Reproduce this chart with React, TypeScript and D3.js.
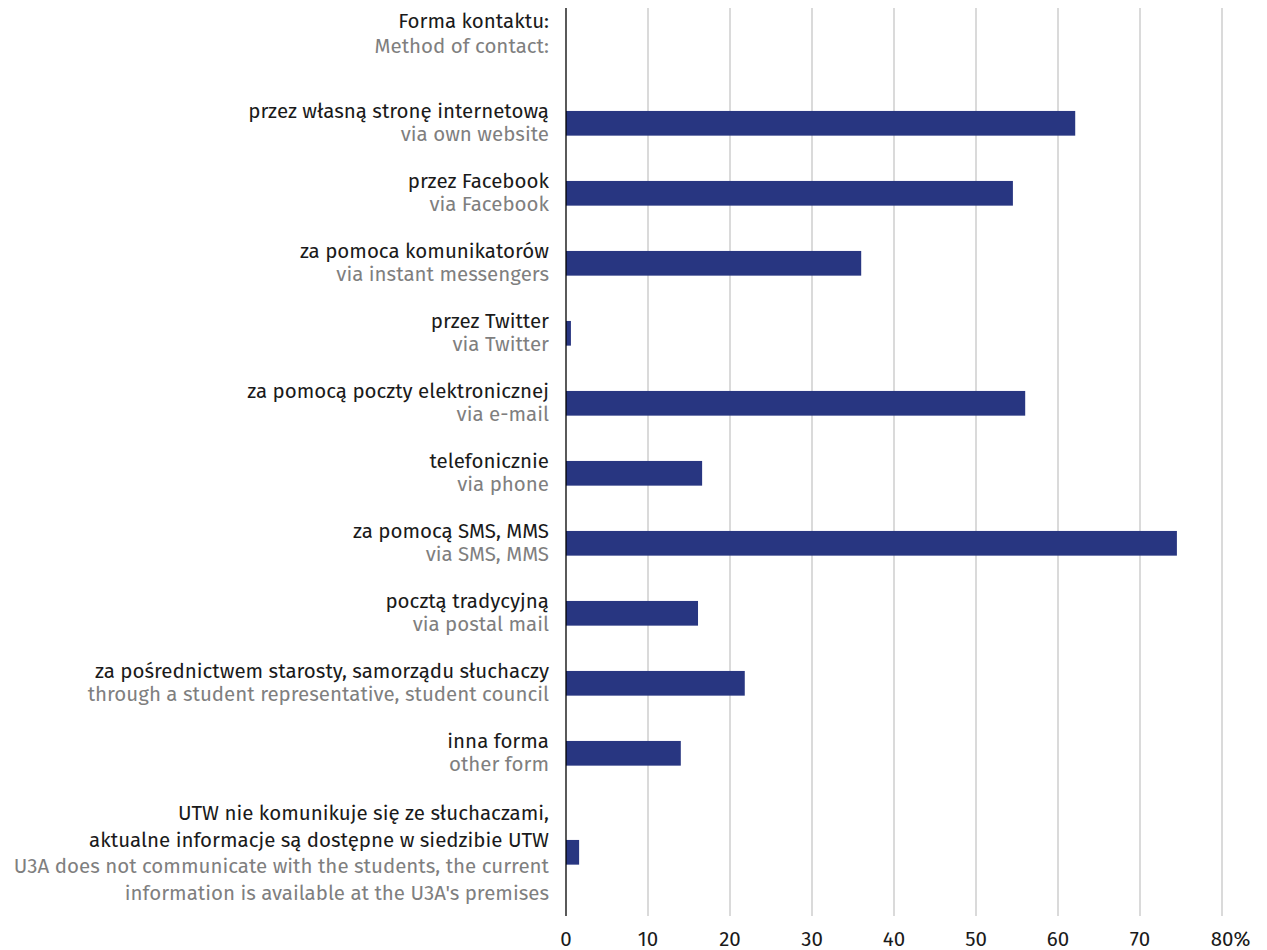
import React from "react";
import * as d3 from "d3";

const categoriesPl: string[][] = [
  ["przez własną stronę internetową"],
  ["przez Facebook"],
  ["za pomoca komunikatorów"],
  ["przez Twitter"],
  ["za pomocą poczty elektronicznej"],
  ["telefonicznie"],
  ["za pomocą SMS, MMS"],
  ["pocztą tradycyjną"],
  ["za pośrednictwem starosty, samorządu słuchaczy"],
  ["inna forma"],
  ["UTW nie komunikuje się ze słuchaczami,", "aktualne informacje są dostępne w siedzibie UTW"],
];
const categoriesEn: string[][] = [
  ["via own website"],
  ["via Facebook"],
  ["via instant messengers"],
  ["via Twitter"],
  ["via e-mail"],
  ["via phone"],
  ["via SMS, MMS"],
  ["via postal mail"],
  ["through a student representative, student council"],
  ["other form"],
  ["U3A does not communicate with the students, the current", "information is available at the U3A's premises"],
];
const values: number[] = [62.1, 54.5, 36.0, 0.6, 56.0, 16.6, 74.5, 16.1, 21.8, 14.0, 1.6];
const ticks: number[] = [0, 10, 20, 30, 40, 50, 60, 70, 80];
const headerPl = "Forma kontaktu:";
const headerEn = "Method of contact:";

const W = 1267;
const H = 950;
const FONT = "'Fira Sans', 'Noto Sans', 'Open Sans', sans-serif";
const BAR = "#283681";
const GRID = "#c6c6c6";
const GRAY = "#7f7f7f";
const BLACK = "#1a1a1a";

export default function App() {
  const x = d3.scaleLinear().domain([0, 80]).range([566, 1222]);
  const plotTop = 8;
  const plotBottom = 916;
  const bandsTop = 18.3;
  const baseBand = 70;
  const extraPerLine = 29;
  const lineCounts = categoriesPl.map((p, i) => p.length + categoriesEn[i].length);
  const bandHeights = lineCounts.map((n) => baseBand + extraPerLine * (n - 2));
  const starts: number[] = [];
  let acc = bandsTop + baseBand;
  bandHeights.forEach((h) => {
    starts.push(acc);
    acc += h;
  });
  const y = d3.scaleIdentity();
  const centers = starts.map((s, i) => y(s + bandHeights[i] / 2));
  const barH = 24.7;
  const lineH = 23;
  const labelX = 549;
  const fs = 20.5;

  return (
    <svg width={W} height={H} style={{ position: "absolute", left: 0, top: 0, background: "#fff" }}>
      {ticks.slice(1).map((t) => (
        <line key={t} x1={x(t)} x2={x(t)} y1={plotTop} y2={plotBottom} stroke={GRID} strokeWidth={1.3} />
      ))}
      {values.map((v, i) => (
        <rect key={i} x={x(0)} y={centers[i] - barH / 2} width={x(v) - x(0)} height={barH} fill={BAR} />
      ))}
      <line x1={x(0)} x2={x(0)} y1={plotTop} y2={plotBottom} stroke="#000" strokeWidth={1.3} />
      <g fontFamily={FONT} fontSize={fs} textAnchor="end">
        <text x={labelX} y={28} fill={BLACK}>{headerPl}</text>
        <text x={labelX} y={52.5} fill={GRAY}>{headerEn}</text>
        {categoriesPl.map((pl, i) => {
          const lines = [...pl.map((t) => ({ t, c: BLACK })), ...categoriesEn[i].map((t) => ({ t, c: GRAY }))];
          const n = lines.length;
          const lh = n > 2 ? 26.5 : lineH;
          const off = n > 2 ? 7.7 : 5.7;
          return lines.map((l, j) => (
            <text key={i + "-" + j} x={labelX} y={centers[i] + off + (j - (n - 1) / 2) * lh} fill={l.c}>
              {l.t}
            </text>
          ));
        })}
      </g>
      <g fontFamily={FONT} fontSize={fs} fill={BLACK}>
        {ticks.map((t, i) =>
          i === ticks.length - 1 ? (
            <text key={t} x={x(t)} dx={-11.3} y={945.5} textAnchor="start">
              {t}%
            </text>
          ) : (
            <text key={t} x={x(t)} y={945.5} textAnchor="middle">
              {t}
            </text>
          )
        )}
      </g>
    </svg>
  );
}
